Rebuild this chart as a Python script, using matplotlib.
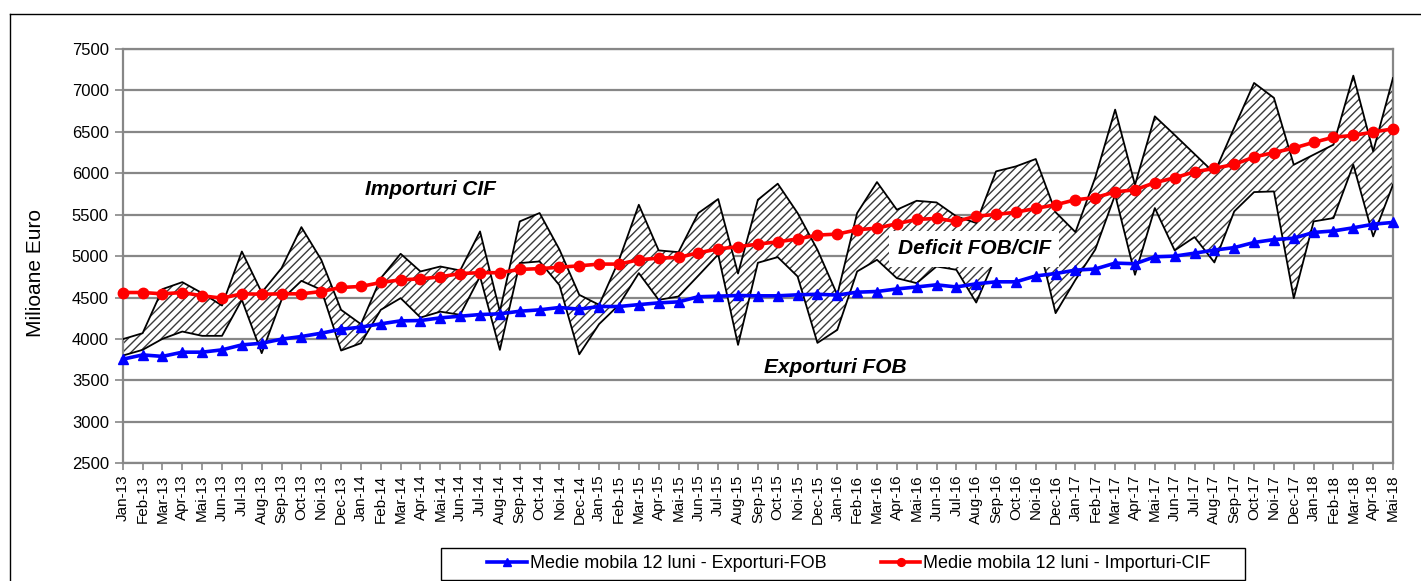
import matplotlib

matplotlib.use("Agg")
import matplotlib.pyplot as plt
from matplotlib.lines import Line2D
from matplotlib.patches import Rectangle


MONTHS = ["Jan", "Feb", "Mar", "Apr", "Mai", "Jun",
          "Jul", "Aug", "Sep", "Oct", "Noi", "Dec"]
YEARS = ["13", "14", "15", "16", "17", "18"]
N_POINTS = 65  # Jan-13 .. Mai-18

# monthly values, milioane euro
importuri_cif = [
    3998, 4070, 4602, 4686, 4553, 4404, 5056, 4561, 4855, 5350, 4956, 4352,
    4179, 4734, 5028, 4815, 4875, 4827, 5298, 4332, 5419, 5520, 5080, 4533,
    4412, 4950, 5620, 5069, 5048, 5520, 5689, 4790, 5680, 5874, 5520, 5077,
    4533, 5519, 5894, 5560, 5668, 5648, 5480, 5400, 6023, 6083, 6172, 5530,
    5290, 5950, 6768, 5860, 6687, 6462, 6232, 6003, 6550, 7090, 6910, 6103,
    6224, 6345, 7178, 6264, 7150,
]
exporturi_fob = [
    3800, 3869, 4002, 4090, 4038, 4038, 4473, 3829, 4473, 4702, 4594, 3861,
    3949, 4352, 4493, 4259, 4330, 4292, 4755, 3869, 4916, 4936, 4650, 3815,
    4180, 4412, 4795, 4473, 4513, 4765, 5020, 3929, 4920, 4988, 4755, 3953,
    4110, 4815, 4956, 4734, 4674, 4875, 4835, 4440, 5000, 5180, 5300, 4312,
    4714, 5080, 5741, 4775, 5580, 5069, 5230, 4924, 5540, 5773, 5781, 4493,
    5419, 5459, 6103, 5238, 5862,
]
mm_exporturi = [
    3756, 3808, 3790, 3841, 3841, 3869, 3929, 3949, 3998, 4030, 4070, 4118,
    4143, 4183, 4219, 4223, 4255, 4275, 4295, 4304, 4335, 4352, 4380, 4360,
    4392, 4392, 4415, 4436, 4448, 4510, 4517, 4525, 4521, 4521, 4533, 4540,
    4530, 4565, 4573, 4604, 4628, 4654, 4628, 4666, 4690, 4690, 4761, 4790,
    4831, 4845, 4916, 4908, 4992, 5000, 5036, 5073, 5103, 5165, 5200, 5217,
    5286, 5304, 5342, 5385, 5407,
]
mm_importuri = [
    4561, 4561, 4545, 4561, 4521, 4493, 4545, 4541, 4545, 4545, 4573, 4622,
    4634, 4682, 4714, 4726, 4750, 4790, 4800, 4800, 4840, 4849, 4866, 4883,
    4904, 4904, 4956, 4976, 4984, 5040, 5087, 5114, 5145, 5173, 5207, 5254,
    5266, 5318, 5338, 5391, 5443, 5455, 5419, 5483, 5503, 5530, 5576, 5620,
    5680, 5707, 5775, 5801, 5886, 5946, 6017, 6059, 6107, 6196, 6250, 6304,
    6373, 6435, 6457, 6498, 6536,
]

labels = [f"{m}-{y}" for y in YEARS for m in MONTHS][:N_POINTS]
x = list(range(N_POINTS))

plt.rcParams["font.family"] = ["Liberation Sans", "DejaVu Sans"]
plt.rcParams["hatch.linewidth"] = 1.0

W, H = 1421, 581
fig = plt.figure(figsize=(W / 100, H / 100), dpi=100)
ax = fig.add_axes([0.0864, 0.2026, 0.8939, 0.7131])

grid_color = "#878787"

# hatched deficit band between the raw monthly series
ax.fill_between(x, exporturi_fob, importuri_cif, facecolor="white",
                edgecolor="#3a3a3a", hatch="////", linewidth=0, zorder=2)
ax.plot(x, importuri_cif, color="black", linewidth=1.3, zorder=3)
ax.plot(x, exporturi_fob, color="black", linewidth=1.3, zorder=3)

ax.plot(x, mm_exporturi, color="#0000FF", linewidth=2.6, marker="^",
        markersize=7, label="Medie mobila 12 luni - Exporturi-FOB",
        zorder=5, clip_on=False)
ax.plot(x, mm_importuri, color="#FF0000", linewidth=2.6, marker="o",
        markersize=7.5, label="Medie mobila 12 luni - Importuri-CIF",
        zorder=6, clip_on=False)

ax.set_xlim(0, N_POINTS - 1)
ax.set_ylim(2500, 7500)
ax.set_yticks(range(2500, 7501, 500))
ax.set_xticks(x)
ax.set_xticklabels(labels, rotation=90, fontsize=11)
ax.tick_params(axis="y", labelsize=12, length=6, width=1.2, color=grid_color,
               direction="out", pad=4)
ax.tick_params(axis="x", length=5, width=1.2, color=grid_color,
               direction="out", pad=3)
ax.grid(axis="y", color=grid_color, linewidth=1.6, zorder=1)
ax.set_axisbelow(True)
for side in ["left", "right", "top", "bottom"]:
    ax.spines[side].set_color(grid_color)
    ax.spines[side].set_linewidth(1.6)

ax.set_ylabel("Milioane Euro", fontsize=15)
ax.yaxis.set_label_coords(-0.061, 0.46)

note_font = dict(fontsize=15, fontweight="bold", fontstyle="italic",
                 ha="center", va="center", zorder=8)
ax.text(15.5, 5800, "Importuri CIF", **note_font)
ax.text(35.9, 3660, "Exporturi FOB", **note_font)
ax.text(42.9, 5090, "Deficit FOB/CIF",
        bbox=dict(facecolor="white", edgecolor="none", pad=6), **note_font)

# legend entries without frame, box drawn separately to match its width
fig.legend(loc="center", bbox_to_anchor=(849 / W, 1 - 564 / H),
           ncol=2, fontsize=13, frameon=False, columnspacing=3.0,
           handlelength=2.2, handletextpad=0.15, borderpad=0.3,
           borderaxespad=0, markerscale=0.75)
fig.add_artist(Rectangle((441 / W, 1 - 580 / H), (1245 - 441) / W, 32 / H,
                         transform=fig.transFigure, fill=False,
                         edgecolor="black", linewidth=1.0))

# outer chart frame (left and top edges visible in the reference)
fig.add_artist(Line2D([10 / W, 10 / W], [0, 1 - 14 / H],
                      transform=fig.transFigure, color="black", linewidth=1))
fig.add_artist(Line2D([10 / W, 1], [1 - 14 / H, 1 - 14 / H],
                      transform=fig.transFigure, color="black", linewidth=1))

fig.savefig("out.png", dpi=100)
plt.close(fig)
